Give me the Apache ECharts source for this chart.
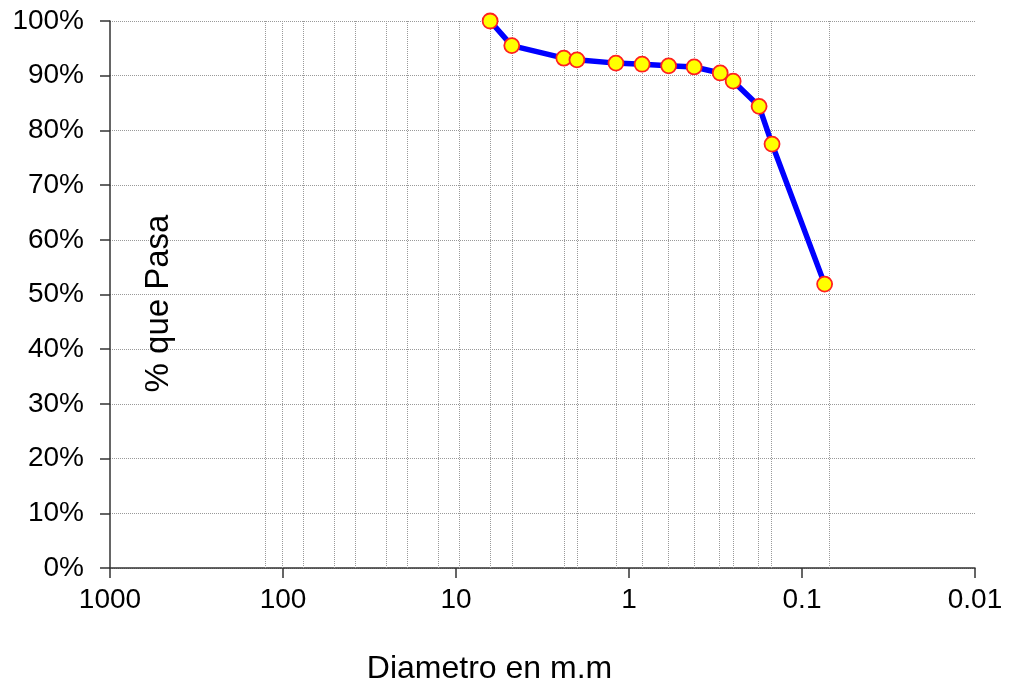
<!DOCTYPE html>
<html>
<head>
<meta charset="utf-8">
<title>Curva granulometrica</title>
<script src="https://cdn.jsdelivr.net/npm/echarts@6/dist/echarts.min.js"></script>
<style>
	html, body { margin: 0; padding: 0; background: #fff; }
	#mychart { width: 1010px; height: 690px; }
</style>
</head>
<body>
<div id="mychart"></div>
<script>
// tamices (mm) - lineas verticales de la grilla
var sieveSizes = [127, 101.6, 76.2, 50.8, 38.1, 25.4, 19.05, 12.7, 9.525, 6.35, 4.76, 2.38, 2.0, 1.19, 0.84, 0.59, 0.42, 0.297, 0.25, 0.177, 0.149, 0.074];
// diametros con muestra y % que pasa
var diametros = [6.35, 4.76, 2.38, 2.0, 1.19, 0.84, 0.59, 0.42, 0.297, 0.25, 0.177, 0.149, 0.074];
var pasa = [100, 95.5, 93.2, 92.9, 92.3, 92.1, 91.8, 91.6, 90.5, 89.0, 84.4, 77.5, 51.9];
var xTicks = [1000, 100, 10, 1, 0.1, 0.01];

function chart() {
	var myChart = echarts.init(document.getElementById("mychart"));
	var fontName = 'Liberation Sans, Arial, sans-serif';

	var points = [];
	for(var i = 0; i < diametros.length; i++) {
		points.push([diametros[i], pasa[i]]);
	}
	var gridLines = [];
	for(var j = 0; j < sieveSizes.length; j++) {
		gridLines.push({ xAxis: sieveSizes[j] });
	}

	var option = {
		animation: false,
		grid: {
			left: 110,
			right: 35,
			top: 21,
			bottom: 118
		},
		xAxis: {
			type: 'log',
			logBase: 10,
			min: 0.01,
			max: 1000,
			inverse: true,
			name: 'Diametro en m.m',
			nameLocation: 'middle',
			nameGap: 85,
			nameTextStyle: {
				color: '#000',
				fontFamily: fontName,
				fontSize: 32,
				padding: [0, 106, 0, 0]
			},
			axisLine: { lineStyle: { color: '#333', width: 1.5 } },
			axisTick: { show: true, inside: false, length: 10, lineStyle: { color: '#333', width: 1.5 } },
			axisLabel: {
				color: '#000',
				fontFamily: fontName,
				fontSize: 28,
				margin: 18,
				formatter: function(v) {
					for(var k = 0; k < xTicks.length; k++) {
						if(Math.abs(Math.log10(v) - Math.log10(xTicks[k])) < 1e-6) return String(xTicks[k]);
					}
					return '';
				}
			},
			splitLine: { show: false },
			minorTick: { show: false }
		},
		yAxis: {
			type: 'value',
			min: 0,
			max: 100,
			interval: 10,
			name: '% que Pasa',
			nameLocation: 'middle',
			nameGap: -65,
			nameRotate: 90,
			nameTextStyle: {
				color: '#000',
				fontFamily: fontName,
				fontSize: 33,
				padding: [0, 18, 0, 0]
			},
			axisLine: { show: true, lineStyle: { color: '#333', width: 1.5 } },
			axisTick: { show: true, inside: false, length: 10, lineStyle: { color: '#333', width: 1.5 } },
			axisLabel: {
				color: '#000',
				fontFamily: fontName,
				fontSize: 28,
				margin: 26,
				formatter: '{value}%'
			},
			splitLine: {
				show: true,
				lineStyle: { color: '#999', type: 'dotted', width: 1 }
			}
		},
		series: [{
			name: '% que Pasa',
			type: 'line',
			data: points,
			lineStyle: { color: '#0000ff', width: 5.5 },
			symbol: 'circle',
			symbolSize: 15,
			itemStyle: { color: '#ffff00', borderColor: '#ff2020', borderWidth: 1.8 },
			z: 5,
			markLine: {
				silent: true,
				symbol: ['none', 'none'],
				label: { show: false },
				lineStyle: { color: '#999', type: 'dotted', width: 1 },
				data: gridLines,
				z: 1
			}
		}]
	};
	myChart.setOption(option);
}
chart();
</script>
</body>
</html>
